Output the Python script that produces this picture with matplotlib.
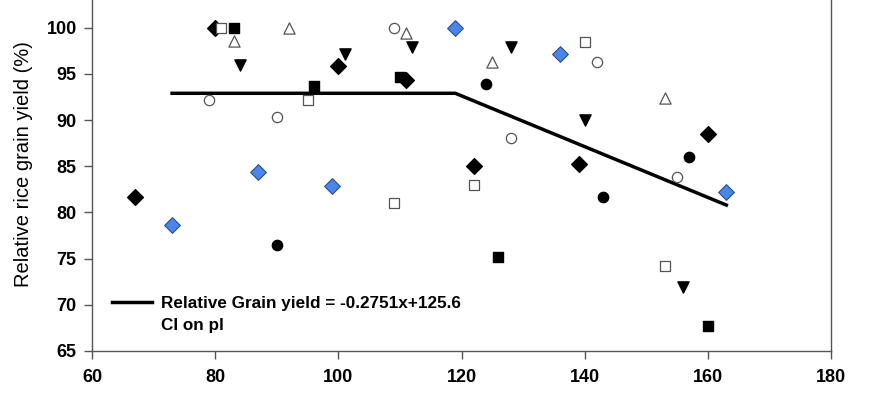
import numpy as np
import matplotlib
matplotlib.use("Agg")
import matplotlib.pyplot as plt
from matplotlib.lines import Line2D

plt.rcParams['font.family'] = ['Liberation Sans', 'DejaVu Sans']

# scatter groups (CI, relative grain yield %)
black_dia_x = [67, 80, 100, 111, 122, 139, 160]
black_dia_y = [81.7, 100, 95.9, 94.3, 85.0, 85.25, 88.5]
blue_dia_x = [73, 87, 99, 119, 136, 163]
blue_dia_y = [78.6, 84.4, 82.9, 100, 97.2, 82.2]
black_sq_x = [83, 96, 110, 126, 160]
black_sq_y = [100, 93.7, 94.7, 75.2, 67.7]
open_sq_x = [81, 95, 109, 122, 140, 153]
open_sq_y = [100, 92.2, 81.0, 83.0, 98.4, 74.2]
open_tri_x = [83, 92, 111, 125, 153]
open_tri_y = [98.6, 100, 99.4, 96.3, 92.4]
down_tri_x = [84, 101, 112, 128, 140, 156]
down_tri_y = [96.0, 97.1, 97.9, 97.9, 90.0, 71.9]
open_circ_x = [79, 90, 109, 128, 142, 155]
open_circ_y = [92.2, 90.35, 100, 88.1, 96.3, 83.8]
black_circ_x = [90, 124, 143, 157]
black_circ_y = [76.5, 93.9, 81.7, 86.0]

# fitted plateau + linear line
fit_x = [73, 119, 163]
fit_y = [92.9, 92.9, 80.8]

fig = plt.figure(figsize=(8.9, 3.95), dpi=100)
ax = fig.add_axes([0.1034, 0.1114, 0.8303, 0.8886])

gray = '#555555'
ax.scatter(black_dia_x, black_dia_y, marker='D', s=64, c='black', zorder=3)
ax.scatter(blue_dia_x, blue_dia_y, marker='D', s=64, c='#4a86e8', edgecolors='#2b4f8f', linewidths=0.8, zorder=3)
ax.scatter(black_sq_x, black_sq_y, marker='s', s=55, c='black', zorder=3)
ax.scatter(open_sq_x, open_sq_y, marker='s', s=55, facecolors='white', edgecolors=gray, linewidths=0.9, zorder=3)
ax.scatter(open_tri_x, open_tri_y, marker='^', s=65, facecolors='white', edgecolors=gray, linewidths=0.9, zorder=3)
ax.scatter(down_tri_x, down_tri_y, marker='v', s=65, c='black', zorder=3)
ax.scatter(open_circ_x, open_circ_y, marker='o', s=55, facecolors='white', edgecolors=gray, linewidths=0.9, zorder=3)
ax.scatter(black_circ_x, black_circ_y, marker='o', s=55, c='black', zorder=3)

ax.plot(fit_x, fit_y, color='black', linewidth=2.5, zorder=2)

ax.set_xlim(60, 180)
ax.set_ylim(65, 103)
ax.set_xticks(np.arange(60, 181, 20))
ax.set_yticks(np.arange(65, 101, 5))
for lab in ax.get_xticklabels() + ax.get_yticklabels():
    lab.set_fontweight('bold')
ax.tick_params(axis='both', labelsize=13, length=6, width=1, color=gray, direction='out')
ax.tick_params(axis='x', pad=7)
ax.tick_params(axis='y', pad=5)
ax.spines['top'].set_visible(False)
for sp in ['left', 'right', 'bottom']:
    ax.spines[sp].set_color(gray)
    ax.spines[sp].set_linewidth(1)

ax.set_ylabel('Relative rice grain yield (%)', fontsize=14.5)
ax.yaxis.set_label_coords(-0.08, 0.534)

handle = Line2D([], [], color='black', linewidth=2.5)
blank = Line2D([], [], alpha=0)
ax.legend([handle, blank], ['Relative Grain yield = -0.2751x+125.6', 'CI on pl'],
          loc='lower left', bbox_to_anchor=(0.027, 0.05), frameon=False,
          prop={'weight': 'bold', 'size': 12.3}, handlelength=2.35, handletextpad=0.5,
          labelspacing=0.45, borderpad=0, borderaxespad=0)

fig.savefig('out.png', dpi=100)
